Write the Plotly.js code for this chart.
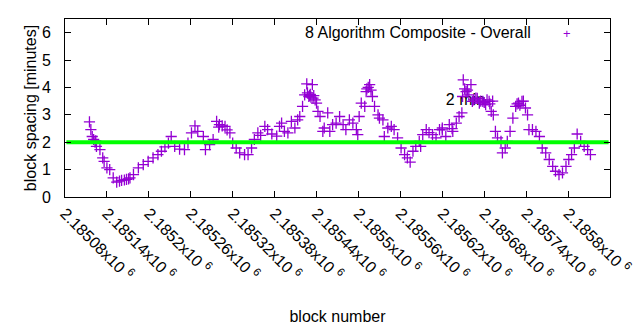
<!DOCTYPE html>
<html>
<head>
<meta charset="utf-8">
<script src="https://cdn.plot.ly/plotly-3.0.1.min.js"></script>
<style>html,body{margin:0;padding:0;background:#fff;}#chart{width:640px;height:330px;}</style>
</head>
<body>
<div id="chart"></div>
<script>
// Block numbers and block spacing (minutes)
const blockNumbers = [
  2185115,2185117,2185119,2185121,2185123,2185124,2185125,2185130,2185134,2185136,
  2185140,2185144,2185149,2185154,2185161,2185168,2185173,2185178,2185185,2185192,
  2185199,2185206,2185213,2185218,2185223,2185228,2185232,2185237,2185244,2185251,
  2185256,2185261,2185266,2185270,2185278,2185281,2185287,2185292,2185297,2185301,
  2185309,2185316,2185320,2185325,2185330,2185337,2185342,2185347,2185351,2185356,
  2185360,2185366,2185370,2185376,2185383,2185387,2185390,2185394,2185399,2185404,
  2185409,2185413,2185416,2185420,2185423,2185426,2185429,2185431,2185434,2185435,
  2185440,2185442,2185445,2185449,2185451,2185456,2185459,2185463,2185468,2185473,
  2185478,2185482,2185487,2185492,2185497,2185499,2185501,2185504,2185509,2185511,
  2185516,2185520,2185523,2185528,2185530,2185535,2185537,2185542,2185547,2185551,
  2185556,2185561,2185566,2185570,2185574,2185578,2185582,2185587,2185589,2185592,
  2185597,2185601,2185606,2185611,2185616,2185620,2185625,2185630,2185635,2185640,
  2185644,2185648,2185649,2185650,2185654,2185658,2185661,2185663,2185668,2185673,
  2185678,2185682,2185687,2185690,2185693,2185696,2185699,2185704,2185706,2185710,
  2185713,2185717,2185721,2185725,2185729,2185734,2185739,2185742,2185744,2185749,
  2185754,2185759,2185763,2185768,2185773,2185778,2185782,2185787,2185792,2185797,
  2185801,2185805,2185809,2185813,2185818,2185823,2185828,2185832,
  2185427,2185430,2185432,2185436,2185438,2185665,2185670,2185675,2185680,2185684,
  2185688,2185692,2185512,2185514,2185518,2185727,2185731,2185736,2185158,2185165,
  2185171,2185300,2185305,2185312,2185620,2185634,2185652,2185656
];
const blockSpacing = [
  2.74,2.46,2.21,2.10,2.00,2.05,1.85,1.73,1.43,1.30,
  1.06,1.00,0.70,0.54,0.61,0.64,0.70,0.82,1.06,1.18,
  1.30,1.43,1.55,1.67,1.83,1.97,2.21,1.85,1.75,1.73,
  1.97,2.34,2.60,2.40,2.21,1.73,1.91,2.10,2.76,2.64,
  2.58,2.34,1.97,1.79,1.61,1.55,1.55,1.79,2.10,2.34,
  2.25,2.58,2.46,2.30,2.22,2.58,2.70,2.40,2.34,2.76,
  2.52,2.82,2.94,3.31,3.73,4.13,3.67,3.75,4.10,3.61,
  3.43,3.13,2.94,2.40,2.52,3.07,2.40,2.64,2.70,2.94,
  2.64,2.46,2.82,2.70,2.46,2.28,2.94,3.43,3.31,3.85,
  4.10,3.67,3.31,3.00,2.88,2.82,2.21,2.52,2.58,2.46,
  2.16,1.79,1.55,1.43,1.27,1.67,1.85,2.03,1.85,2.28,
  2.46,2.35,2.28,2.16,2.46,2.52,2.21,2.64,2.40,2.70,
  2.94,3.07,3.67,4.28,3.85,3.73,4.10,3.49,3.61,3.43,
  3.49,3.37,3.49,3.13,3.00,2.40,2.16,2.03,1.61,1.79,
  2.03,2.40,2.88,3.31,3.43,3.49,3.25,3.00,2.46,2.46,
  2.40,2.21,1.79,1.61,1.37,1.12,0.94,0.82,0.88,1.12,
  1.37,1.55,1.79,2.30,2.03,1.85,1.73,1.55,
  3.80,3.70,3.65,3.70,3.55,3.55,3.60,3.50,3.45,3.55,
  3.40,3.50,3.95,4.00,3.90,3.40,3.35,3.50,0.58,0.62,
  0.66,2.55,2.60,2.45,2.45,2.50,3.95,3.90
];
// 2 minute target line
const targetBlocks = [2185082, 2185858];
const targetSpacing = [2, 2];
// label of the target
const targetLabelX = [2185625];
const targetLabelY = [3.5];
const targetLabelText = ["2 min"];
// axis ticks
const xTickValues = [2185080,2185140,2185200,2185260,2185320,2185380,2185440,2185500,2185560,2185620,2185680,2185740,2185800,2185860];
const xTickLabels = ["2.18508x10 <sup>6</sup>","2.18514x10 <sup>6</sup>","2.1852x10 <sup>6</sup>","2.18526x10 <sup>6</sup>","2.18532x10 <sup>6</sup>","2.18538x10 <sup>6</sup>","2.18544x10 <sup>6</sup>","2.1855x10 <sup>6</sup>","2.18556x10 <sup>6</sup>","2.18562x10 <sup>6</sup>","2.18568x10 <sup>6</sup>","2.18574x10 <sup>6</sup>","2.1858x10 <sup>6</sup>","2.18586x10 <sup>6</sup>"];
const yTickValues = [0,1,2,3,4,5,6];
const seriesName = "8 Algorithm Composite - Overall";

const FONT = "Liberation Sans, Arial, sans-serif";
const PURPLE = "#9400d3";

const traces = [
  {
    x: targetLabelX, y: targetLabelY, text: targetLabelText,
    mode: "text", textposition: "middle right", type: "scatter",
    textfont: {family: FONT, size: 16, color: "#000"},
    hoverinfo: "skip", showlegend: false, cliponaxis: false
  },
  {
    x: blockNumbers, y: blockSpacing, type: "scatter", mode: "markers",
    name: seriesName, showlegend: false,
    marker: {symbol: "cross-thin-open", size: 8, color: PURPLE, line: {color: PURPLE, width: 1.3}}
  },
  {
    x: targetBlocks, y: targetSpacing, type: "scatter", mode: "lines",
    line: {color: "#00ff00", width: 4}, showlegend: false, hoverinfo: "skip"
  }
];

const layout = {
  width: 640, height: 330,
  margin: {l: 65, r: 30, t: 19, b: 132.5, pad: 0},
  paper_bgcolor: "#fff", plot_bgcolor: "#fff",
  font: {family: FONT, size: 16, color: "#000"},
  showlegend: false,
  xaxis: {
    range: [2185080, 2185860],
    tickmode: "array", tickvals: xTickValues, ticktext: xTickLabels,
    tickangle: 45, ticks: "inside", ticklen: 6, tickcolor: "#000",
    showline: true, linecolor: "#000", linewidth: 1, mirror: "ticks",
    showgrid: false, zeroline: false,
    tickfont: {family: FONT, size: 16, color: "#000"},
    title: {text: "block number", font: {family: FONT, size: 16, color: "#000"}, standoff: 28}
  },
  yaxis: {
    range: [0, 6.5],
    tickmode: "array", tickvals: yTickValues,
    ticks: "inside", ticklen: 6, tickcolor: "#000",
    showline: true, linecolor: "#000", linewidth: 1, mirror: "ticks",
    showgrid: false, zeroline: false, ticklabelstandoff: 10,
    tickfont: {family: FONT, size: 16, color: "#000"},
    title: {text: "block spacing [minutes]", font: {family: FONT, size: 16, color: "#000"}, standoff: 1}
  },
  annotations: [
    {xref: "paper", yref: "paper", x: 0.858, y: 0.9255, xanchor: "right", yanchor: "middle",
     text: seriesName, showarrow: false, font: {family: FONT, size: 16, color: "#000"}},
    {xref: "paper", yref: "paper", x: 0.9206, y: 0.92, xanchor: "center", yanchor: "middle",
     text: "+", showarrow: false, font: {family: FONT, size: 13, color: PURPLE}}
  ]
};

Plotly.newPlot("chart", traces, layout, {displayModeBar: false, staticPlot: true});
</script>
</body>
</html>
